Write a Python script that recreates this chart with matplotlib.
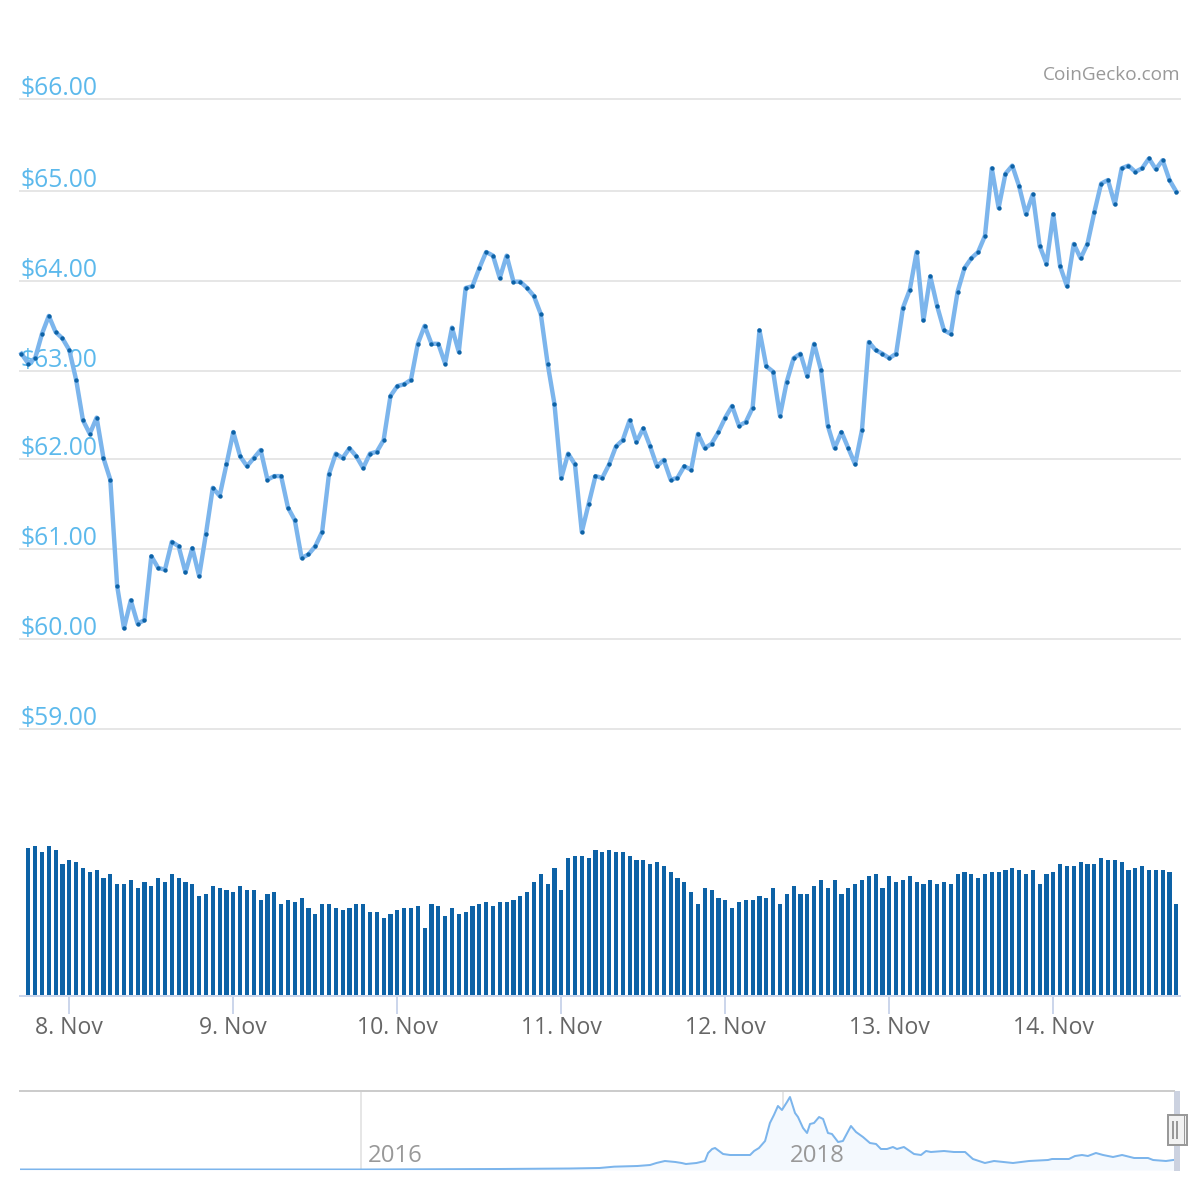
import numpy as np
import matplotlib
matplotlib.use("Agg")
import matplotlib.pyplot as plt
from matplotlib.patches import Rectangle
from matplotlib.lines import Line2D
from matplotlib.transforms import blended_transform_factory, offset_copy

plt.rcParams['font.family'] = ['Open Sans', 'DejaVu Sans']

price = [
 63.17,63.06,63.12,63.39,63.59,63.41,63.34,63.21,62.88,62.43,62.28,62.46,62.01,61.77,60.59,60.12,60.43,60.17,60.21,60.92,
 60.79,60.77,61.08,61.03,60.74,61.01,60.70,61.17,61.68,61.59,61.94,62.30,62.03,61.92,62.01,62.10,61.77,61.81,61.81,61.46,
 61.32,60.90,60.94,61.03,61.19,61.83,62.06,62.01,62.12,62.03,61.90,62.06,62.08,62.21,62.70,62.81,
 62.83,62.88,63.28,63.48,63.28,63.28,63.06,63.46,63.19,63.90,63.92,64.12,64.30,64.26,64.01,64.26,63.97,63.97,63.90,63.81,
 63.61,63.06,62.61,61.79,62.06,61.94,61.19,61.50,61.81,61.79,61.94,62.14,62.21,62.43,62.19,62.34,62.14,61.92,61.99,61.77,
 61.79,61.92,61.88,62.28,62.12,62.17,62.30,62.46,62.59,62.37,62.41,62.57,63.43,63.03,62.97,62.48,62.86,63.12,
 63.17,62.92,63.28,62.99,62.37,62.12,62.30,62.12,61.94,62.32,63.30,63.21,63.17,63.12,63.17,63.68,63.88,64.30,63.54,64.03,
 63.70,63.43,63.39,63.86,64.12,64.23,64.30,64.48,65.23,64.79,65.17,65.26,65.03,64.72,64.94,64.37,64.17,64.72,64.14,63.92,
 64.39,64.23,64.39,64.74,65.06,65.10,64.83,65.23,65.26,65.19,65.23,65.34,65.22,65.32,65.10,64.97]

# volume has no readable scale; relative units, first hour has no bar
volume = [
 148,150,144,150,146,132,136,134,128,124,126,118,122,112,112,116,108,114,110,118,114,122,118,114,112,100,102,110,108,106,
 104,110,106,106,96,102,104,92,96,94,98,88,82,92,92,88,86,88,92,92,84,84,78,82,86,
 88,88,90,68,92,90,80,88,82,84,90,92,94,90,94,94,96,100,104,114,122,112,128,106,138,140,140,138,146,144,146,144,144,140,
 136,136,132,134,130,124,118,114,104,92,108,106,98,96,88,94,96,96,100,98,108,92,102,110,
 102,102,110,116,108,116,102,108,112,116,120,122,108,120,114,116,120,114,112,116,112,114,112,122,124,122,118,122,124,124,
 126,128,126,122,126,112,122,124,132,130,130,134,132,132,138,136,136,134,126,128,130,126,126,126,124,92]

day_labels = ["8. Nov","9. Nov","10. Nov","11. Nov","12. Nov","13. Nov","14. Nov"]
price_labels = ["$59.00","$60.00","$61.00","$62.00","$63.00","$64.00","$65.00","$66.00"]
price_ticks = [59,60,61,62,62.98,63.98,64.98,66]

nav_year = [2014.38,2015.24,2016.0,2016.66,2016.99,2017.13,2017.20,2017.31,2017.37,2017.40,2017.44,2017.49,2017.52,2017.54,
 2017.59,2017.63,2017.645,2017.664,2017.678,2017.716,2017.749,2017.787,2017.844,2017.863,2017.886,2017.915,2017.938,2017.957,
 2017.976,2017.995,2018.019,2018.033,2018.057,2018.071,2018.095,2018.114,2018.128,2018.147,2018.171,2018.190,2018.213,2018.232,
 2018.261,2018.284,2018.322,2018.346,2018.379,2018.412,2018.441,2018.464,2018.493,2018.521,2018.540,2018.573,2018.621,2018.654,
 2018.678,2018.701,2018.763,2018.810,2018.863,2018.900,2018.957,2019.0,2019.090,2019.166,2019.256,2019.275,2019.355,2019.384,
 2019.417,2019.445,2019.483,2019.517,2019.564,2019.607,2019.664,2019.730,2019.754,2019.815,2019.867]
nav_price = [3,3,3,6,9,12,20,24,30,42,54,48,42,36,42,54,102,126,132,96,90,90,90,114,132,174,282,330,384,360,408,438,342,318,252,222,
 276,282,318,306,222,216,168,174,264,228,198,162,156,126,126,138,126,138,96,90,114,108,114,108,108,66,42,54,42,54,60,66,66,84,
 90,84,102,90,78,90,72,72,60,54,63]
nav_ticks = [2016, 2018]

BLUE = "#7cb5ec"; DARK = "#0d62a6"; GRID = "#e6e6e6"; AXIS = "#ccd6eb"
LABEL = "#5cb9ec"; PX = 72/100

fig = plt.figure(figsize=(12,12), dpi=100, facecolor="white")
def axes_px(l, t, r, b):
    return fig.add_axes([l/1200, 1-b/1200, (r-l)/1200, (b-t)/1200], facecolor="none")

hours = np.arange(len(price)) - 7
xlim = ((20-69.3)/6.8333, (1180-69.3)/6.8333)

# price panel
ax = axes_px(20, 99, 1180, 729)
ax.set_xlim(xlim); ax.set_ylim(59, 66)
for s in ax.spines.values(): s.set_visible(False)
ax.set_xticks([]); ax.set_yticks(price_ticks); ax.set_yticklabels([])
ax.tick_params(left=False)
ax.grid(axis='y', color=GRID, lw=2*PX, clip_on=False); ax.set_axisbelow(True)
tr = offset_copy(blended_transform_factory(ax.transAxes, ax.transData), fig=fig, x=1*PX, y=4*PX, units='points')
for v, lab in zip(price_ticks, price_labels):
    ax.text(0, v, lab, transform=tr, color=LABEL, fontsize=24.6*PX, ha='left', va='baseline', zorder=1.5)
ax.plot(hours, price, color=BLUE, lw=4.4*PX, zorder=3, clip_on=False, solid_joinstyle='round')
ax.plot(hours, price, ls='none', marker='o', ms=4.4*PX, mfc=DARK, mec='none', zorder=4, clip_on=False)
fig.text(1180/1200, 1-80/1200, "CoinGecko.com", color="#999999", fontsize=19*PX, ha='right', va='baseline')

# volume panel
av = axes_px(20, 846, 1180, 996)
av.set_xlim(xlim); av.set_ylim(0, 150)
for k in ('top','left','right'): av.spines[k].set_visible(False)
av.spines['bottom'].set_color(AXIS); av.spines['bottom'].set_linewidth(2*PX)
av.set_yticks([])
av.bar(hours[1:], volume, width=0.6, color=DARK, zorder=2)
av.set_xticks(np.arange(len(day_labels))*24)
av.set_xticklabels(day_labels, fontsize=23*PX, color="#666666")
av.tick_params(axis='x', length=18*PX, width=2*PX, color=AXIS, pad=2.5*PX)

# navigator
an = axes_px(20, 1091, 1180, 1170)
an.set_xlim(2016+(20-361)/211, 2016+(1180-361)/211); an.set_ylim(0, 474)
for s in an.spines.values(): s.set_visible(False)
an.set_yticks([]); an.set_xticks([])
for y in nav_ticks:
    an.axvline(y, color=GRID, lw=2*PX, zorder=1)
    an.annotate(str(y), (y, 0), xytext=(7*PX, 8*PX), textcoords='offset points', color="#999999",
                fontsize=24*PX, ha='left', va='baseline', zorder=5)
an.fill_between(nav_year, nav_price, 0, color="#f4f9fe", lw=0, zorder=2)
an.plot(nav_year, nav_price, color=BLUE, lw=2*PX, zorder=3)

def fig_rect(l, t, r, b, **kw):
    fig.add_artist(Rectangle((l/1200, 1-b/1200), (r-l)/1200, (b-t)/1200, transform=fig.transFigure, **kw))
def fig_line(x0, y0, x1, y1, **kw):
    fig.add_artist(Line2D([x0/1200, x1/1200], [1-y0/1200, 1-y1/1200], transform=fig.transFigure, **kw))

fig_line(20, 1091, 1174, 1091, color="#cccccc", lw=2*PX)
fig_rect(1174, 1091, 1180, 1171, facecolor="#ccd2e0", edgecolor='none')
fig_rect(1168, 1115, 1187, 1145, facecolor="#f2f2f2", edgecolor="#999999", lw=2*PX)
fig_line(1184, 1115, 1184, 1145, color="#999999", lw=1*PX)
fig_line(1173, 1122, 1173, 1138, color="#999999", lw=2*PX)
fig_line(1177, 1122, 1177, 1138, color="#999999", lw=2*PX)

fig.savefig("out.png", dpi=100)
